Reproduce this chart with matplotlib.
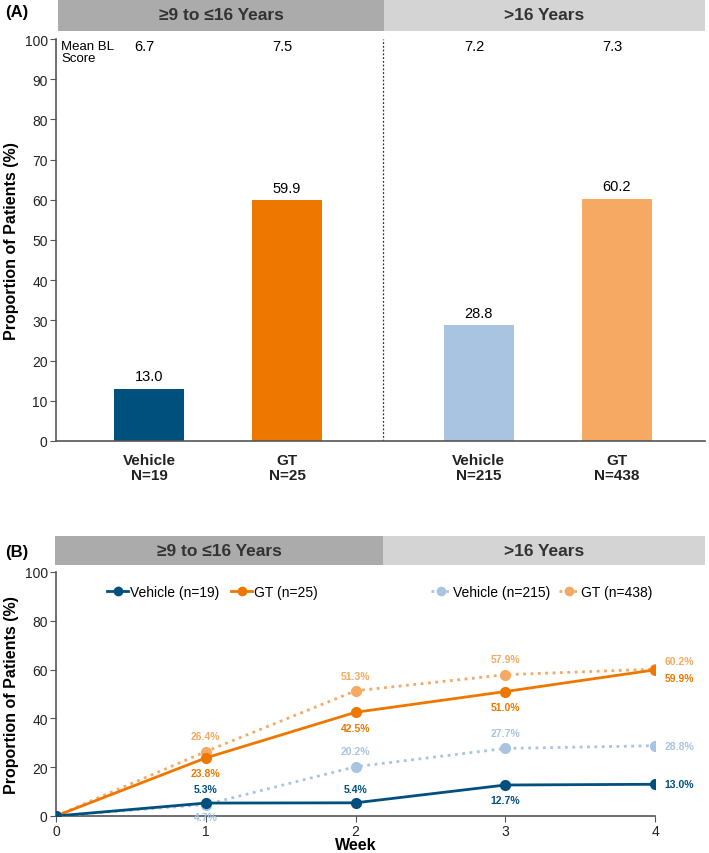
import matplotlib.pyplot as plt
from matplotlib.lines import Line2D

plt.rcParams['font.family'] = ['Liberation Sans Narrow', 'Liberation Sans', 'DejaVu Sans']

# data
groups = ["\u22659 to \u226416 Years", ">16 Years"]
bar_labels = ["Vehicle\nN=19", "GT\nN=25", "Vehicle\nN=215", "GT\nN=438"]
bar_values = [13.0, 59.9, 28.8, 60.2]
mean_bl = ["6.7", "7.5", "7.2", "7.3"]

weeks = [0, 1, 2, 3, 4]
veh_young = [0, 5.3, 5.4, 12.7, 13.0]
gt_young = [0, 23.8, 42.5, 51.0, 59.9]
veh_old = [0, 4.7, 20.2, 27.7, 28.8]
gt_old = [0, 26.4, 51.3, 57.9, 60.2]

c_dblue = "#00507e"
c_orange = "#ee7700"
c_lblue = "#a9c4e0"
c_lorange = "#f5a962"
c_hdr1 = "#ababab"
c_hdr2 = "#d4d4d4"
spine_c = "#555555"

fig = plt.figure(figsize=(7.09, 8.54), dpi=100)

def header(rect, split):
    hax = fig.add_axes(rect)
    hax.set_xlim(0, 1)
    hax.set_ylim(0, 1)
    hax.axvspan(0, split, color=c_hdr1, lw=0)
    hax.axvspan(split, 1, color=c_hdr2, lw=0)
    hax.text(split / 2, 0.5, groups[0], ha="center", va="center", fontsize=12.5, fontweight="bold", color="#333333")
    hax.text((split + 1) / 2, 0.5, groups[1], ha="center", va="center", fontsize=12.5, fontweight="bold", color="#333333")
    hax.axis("off")

def style(ax):
    for s in ["top", "right"]:
        ax.spines[s].set_visible(False)
    for s in ["left", "bottom"]:
        ax.spines[s].set_color(spine_c)
        ax.spines[s].set_linewidth(1.2)
    ax.tick_params(colors=spine_c, labelcolor="#222222", labelsize=10, length=4, pad=2)

# ---------------- panel A
header([58/709, 1 - 32/854, 647/709, 32/854], (384 - 58) / 647)
fig.text(5/709, 1 - 12/854, "(A)", fontsize=12, fontweight="bold", va="center")

axA = fig.add_axes([56/709, 1 - 442/854, 649/709, 402/854])
bar_x = [0, 1, 2.39, 3.39]
bar_colors = [c_dblue, c_orange, c_lblue, c_lorange]
axA.bar(bar_x, bar_values, width=0.51, color=bar_colors)
for x, v in zip(bar_x, bar_values):
    axA.annotate(f"{v:.1f}", (x, v), xytext=(0, 4), textcoords="offset points",
                 ha="center", va="bottom", fontsize=10.5)
for x, m in zip(bar_x, mean_bl):
    axA.text(x - 0.03, 98.3, m, ha="center", va="center", fontsize=10.5)
axA.text(-0.635, 96.8, "Mean BL\nScore", ha="left", va="center", fontsize=9.5, linespacing=1.0)
axA.axvline(1.695, color="#333333", ls=(0, (1.5, 1.5)), lw=0.9)
axA.set_xlim(-0.674, 4.03)
axA.set_ylim(0, 100)
axA.set_yticks(range(0, 101, 10))
axA.set_xticks(bar_x)
axA.set_xticklabels(bar_labels, fontweight="bold", fontsize=11, linespacing=1.05)
axA.set_ylabel("Proportion of Patients (%)", fontsize=11.5, fontweight="bold", labelpad=4)
style(axA)
axA.tick_params(axis="x", length=0, pad=9, labelsize=11)

# ---------------- panel B
header([55/709, 1 - 566/854, 650/709, 29/854], (383 - 55) / 650)
fig.text(5/709, 1 - 553/854, "(B)", fontsize=12, fontweight="bold", va="center")

axB = fig.add_axes([56/709, 1 - 817/854, 599/709, 244/854])
axB.plot(weeks, veh_old, color=c_lblue, ls=":", lw=2, marker="o", ms=7, label="Vehicle (n=215)", zorder=3)
axB.plot(weeks, gt_old, color=c_lorange, ls=":", lw=2, marker="o", ms=7, label="GT (n=438)", zorder=3)
axB.plot(weeks, gt_young, color=c_orange, lw=2, marker="o", ms=7, label="GT (n=25)", zorder=4)
axB.plot(weeks, veh_young, color=c_dblue, lw=2, marker="o", ms=7, label="Vehicle (n=19)", zorder=5)

def lab(x, y, col, dy, dx=0, ha="center"):
    axB.annotate(f"{y:.1f}%", (x, y), xytext=(dx, dy), textcoords="offset points",
                 ha=ha, va="center", fontsize=7.5, fontweight="bold", color=col)

for i in range(1, 4):
    lab(i, gt_young[i], c_orange, -11)
    lab(i, gt_old[i], c_lorange, 11)
lab(1, veh_young[1], c_dblue, 10)
lab(2, veh_young[2], c_dblue, 10)
lab(3, veh_young[3], c_dblue, -11)
lab(1, veh_old[1], c_lblue, -9)
lab(2, veh_old[2], c_lblue, 11)
lab(3, veh_old[3], c_lblue, 11)
lab(4, veh_young[4], c_dblue, 0, 7, "left")
lab(4, gt_young[4], c_orange, -6, 7, "left")
lab(4, gt_old[4], c_lorange, 6, 7, "left")
lab(4, veh_old[4], c_lblue, 0, 7, "left")

axB.set_xlim(0, 4)
axB.set_ylim(0, 100)
axB.set_xticks(weeks)
axB.set_yticks(range(0, 101, 20))
axB.set_xlabel("Week", fontsize=11.5, fontweight="bold", labelpad=-1)
axB.set_ylabel("Proportion of Patients (%)", fontsize=11.5, fontweight="bold", labelpad=4)
style(axB)
for s in ["left", "bottom"]:
    axB.spines[s].set_clip_on(False)

def handle(col, ls):
    return Line2D([], [], color=col, ls=ls, lw=2, marker="o", ms=6)

leg1 = axB.legend([handle(c_dblue, "-"), handle(c_orange, "-")], ["Vehicle (n=19)", "GT (n=25)"],
                  loc="center left", bbox_to_anchor=(0.065, 0.92), ncol=2, frameon=False,
                  fontsize=10, handlelength=1.5, handletextpad=0.1, columnspacing=0.9)
axB.add_artist(leg1)
axB.legend([handle(c_lblue, ":"), handle(c_lorange, ":")], ["Vehicle (n=215)", "GT (n=438)"],
           loc="center left", bbox_to_anchor=(0.605, 0.92), ncol=2, frameon=False,
           fontsize=10, handlelength=1.5, handletextpad=0.1, columnspacing=0.6)

plt.savefig("out.png", dpi=100)
